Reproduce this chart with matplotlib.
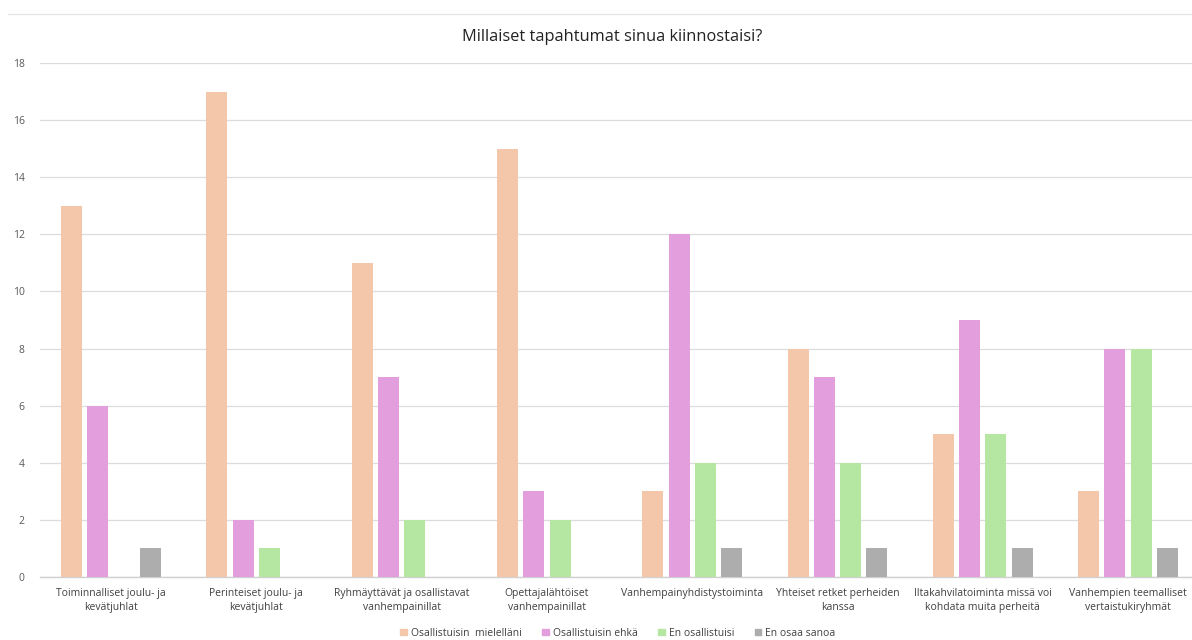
import numpy as np
import matplotlib.pyplot as plt
from matplotlib.lines import Line2D

plt.rcParams['font.family'] = ['Open Sans', 'DejaVu Sans']

# Data
categories = [
    "Toiminnalliset joulu- ja\nkevätjuhlat",
    "Perinteiset joulu- ja\nkevätjuhlat",
    "Ryhmäyttävät ja osallistavat\nvanhempainillat",
    "Opettajalähtöiset\nvanhempainillat",
    "Vanhempainyhdistystoiminta",
    "Yhteiset retket perheiden\nkanssa",
    "Iltakahvilatoiminta missä voi\nkohdata muita perheitä",
    "Vanhempien teemalliset\nvertaistukiryhmät",
]
series_names = ["Osallistuisin  mielelläni", "Osallistuisin ehkä",
                "En osallistuisi", "En osaa sanoa"]
mielellaan = [13, 17, 11, 15, 3, 8, 5, 3]
ehka = [6, 2, 7, 3, 12, 7, 9, 8]
ei = [0, 1, 2, 2, 4, 4, 5, 8]
en_osaa = [1, 0, 0, 0, 1, 1, 1, 1]
yticks = [0, 2, 4, 6, 8, 10, 12, 14, 16, 18]

colors = ['#F4C7AB', '#E29EDD', '#B5E6A2', '#ADADAD']

fig = plt.figure(figsize=(11.92, 6.4), dpi=100)
ax = fig.add_axes([40 / 1192, 63 / 640, 1152 / 1192, 514 / 640])

x = np.arange(len(categories))
width = 0.145
step = 0.181
all_series = [mielellaan, ehka, ei, en_osaa]
for i, (vals, col) in enumerate(zip(all_series, colors)):
    ax.bar(x + (i - 1.5) * step, vals, width, color=col, zorder=3)

ax.set_xlim(-0.489, 7.44)
ax.set_ylim(0, 18)
ax.set_yticks(yticks)
ax.set_xticks(x)
ax.set_xticklabels(categories, fontsize=7.5, color='#404040', linespacing=1.4)
ax.tick_params(axis='y', labelsize=7.5, labelcolor='#595959', length=0, pad=11)
ax.tick_params(axis='x', length=0, pad=8)
ax.grid(axis='y', color='#DCDCDC', linewidth=0.9, zorder=0)
for s in ['top', 'right', 'left']:
    ax.spines[s].set_visible(False)
ax.spines['bottom'].set_color('#D0D0D0')
ax.spines['bottom'].set_linewidth(1.0)

fig.text(612 / 1192, 1 - 37 / 640, "Millaiset tapahtumat sinua kiinnostaisi?",
         ha='center', va='center', fontsize=11.8, color='#222222')

# thin line at the very top of the picture
fig.add_artist(Line2D([8 / 1192, 1.0], [1 - 14 / 640, 1 - 14 / 640],
                      color='#E3E3E3', linewidth=0.9))

handles = [plt.Rectangle((0, 0), 1, 1, color=c) for c in colors]
fig.legend(handles, series_names, loc='center', bbox_to_anchor=(618 / 1192, 1 - 633 / 640),
           ncol=4, frameon=False, fontsize=7.5, handlelength=0.6, handleheight=0.6,
           handletextpad=0.4, columnspacing=2.0, labelcolor='#404040')

fig.savefig('out.png', dpi=100, facecolor='white')
